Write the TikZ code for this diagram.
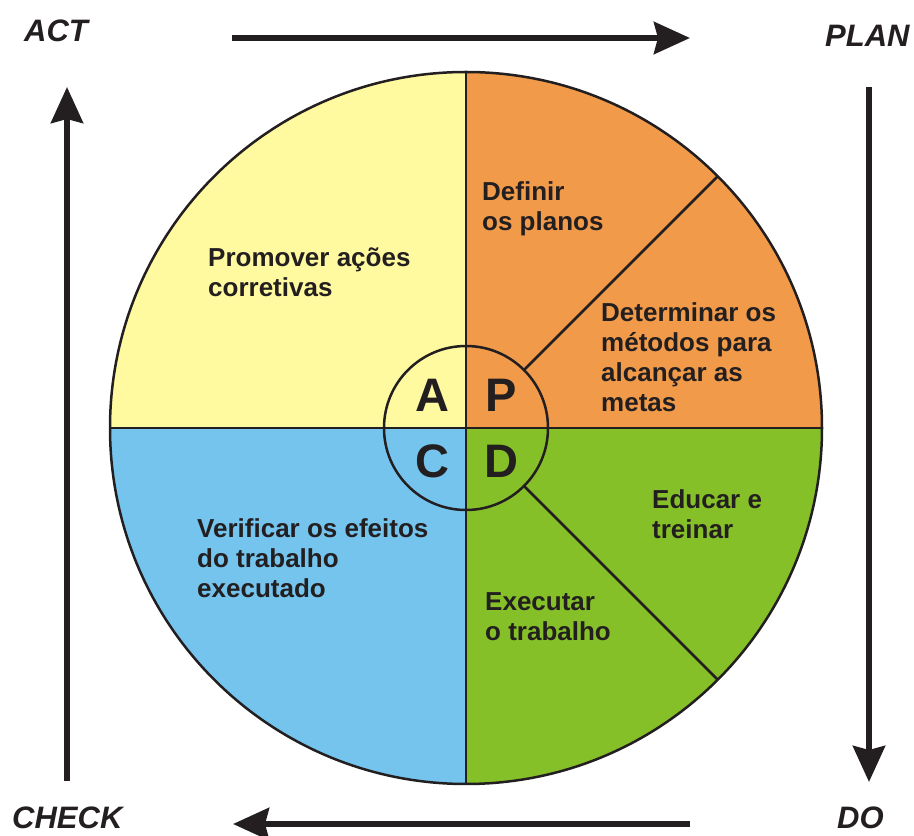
\documentclass[tikz,border=0pt]{standalone}
\usepackage{fontspec}
\setmainfont{Liberation Sans}
\usetikzlibrary{arrows.meta}
\definecolor{actyellow}{RGB}{255,250,160}
\definecolor{planorange}{RGB}{240,154,74}
\definecolor{dogreen}{RGB}{134,192,40}
\definecolor{checkblue}{RGB}{116,196,238}
\definecolor{ink}{RGB}{35,31,32}
\newcommand{\lines}[1]{\begin{tabular}[t]{@{}l@{}}#1\end{tabular}}
\tikzset{
  outline/.style={draw=ink, line width=2.5pt},
  cyclearrow/.style={draw=ink, line width=6pt,
    -{Stealth[length=36pt, width=32pt, inset=4pt]}},
  stage/.style={anchor=base west, inner sep=0pt, text=ink,
    font=\fontsize{31}{36}\selectfont\bfseries\itshape},
  task/.style={anchor=base west, inner sep=0pt, text=ink,
    font=\fontsize{26}{30}\selectfont\bfseries},
  letter/.style={anchor=center, inner sep=0pt, text=ink,
    font=\fontsize{47}{52}\selectfont\bfseries}
}
\begin{document}
\begin{tikzpicture}[x=1pt, y=1pt]
\useasboundingbox (0,0) rectangle (914,836);
\coordinate (c) at (466,408);

% four quadrants of the cycle
\fill[actyellow] (c) -- ++(180:356pt) arc[start angle=180, end angle=90, radius=356pt] -- cycle;
\fill[planorange] (c) -- ++(90:356pt) arc[start angle=90, end angle=0, radius=356pt] -- cycle;
\fill[dogreen] (c) -- ++(0:356pt) arc[start angle=0, end angle=-90, radius=356pt] -- cycle;
\fill[checkblue] (c) -- ++(-90:356pt) arc[start angle=-90, end angle=-180, radius=356pt] -- cycle;

% dividing lines
\path (c) ++(90:356pt) coordinate (outerN)
      (c) ++(-90:356pt) coordinate (outerS)
      (c) ++(180:356pt) coordinate (outerW)
      (c) ++(0:356pt) coordinate (outerE)
      (c) ++(45:82pt) coordinate (innerNE)
      (c) ++(45:356pt) coordinate (outerNE)
      (c) ++(-45:82pt) coordinate (innerSE)
      (c) ++(-45:356pt) coordinate (outerSE);
\draw[outline] (outerN) -- (outerS);
\draw[outline] (outerW) -- (outerE);
\draw[outline] (innerNE) -- (outerNE);
\draw[outline] (innerSE) -- (outerSE);
\draw[outline] (c) circle[radius=356pt];
\draw[outline] (c) circle[radius=82pt];

% stage letters
\node[letter] (lA) at (432,441) {A};
\node[letter] (lP) at (501,441) {P};
\node[letter] (lC) at (432,375) {C};
\node[letter] (lD) at (501,375) {D};

% tasks
\node[task] (promover) at (208,569) {\lines{Promover ações\\corretivas}};
\node[task] (definir) at (482,635) {\lines{Definir\\os planos}};
\node[task] (determinar) at (601,514) {\lines{Determinar os\\métodos para\\alcançar as\\metas}};
\node[task] (verificar) at (197,298) {\lines{Verificar os efeitos\\do trabalho\\executado}};
\node[task] (executar) at (485,225) {\lines{Executar\\o trabalho}};
\node[task] (educar) at (652,327) {\lines{Educar e\\treinar}};

% cycle labels
\node[stage] (act) at (24,794) {ACT};
\node[stage] (plan) at (825,789) {PLAN};
\node[stage] (check) at (12,7) {CHECK};
\node[stage] (do) at (837,7) {DO};

% cycle arrows
\coordinate (topS) at (232,798);
\coordinate (topE) at (690,798);
\coordinate (rightS) at (869,749);
\coordinate (rightE) at (869,54);
\coordinate (botS) at (690,12);
\coordinate (botE) at (233,12);
\coordinate (leftS) at (67,55);
\coordinate (leftE) at (67,749);
\draw[cyclearrow] (topS) -- (topE);
\draw[cyclearrow] (rightS) -- (rightE);
\draw[cyclearrow] (botS) -- (botE);
\draw[cyclearrow] (leftS) -- (leftE);
\end{tikzpicture}
\end{document}
